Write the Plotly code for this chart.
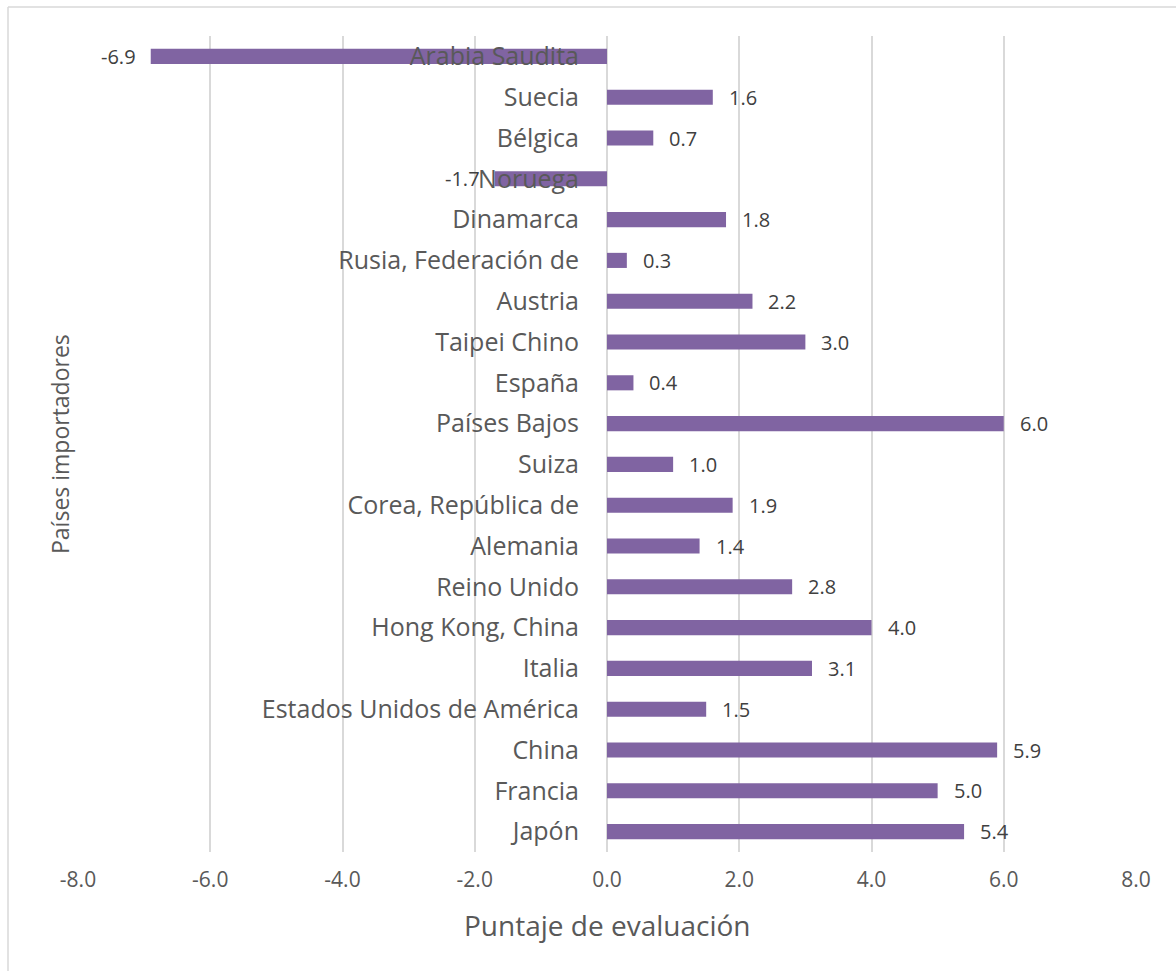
import plotly.graph_objects as go

# Importing countries, listed top to bottom
paises = [
    "Arabia Saudita", "Suecia", "Bélgica", "Noruega", "Dinamarca",
    "Rusia, Federación de", "Austria", "Taipei Chino", "España",
    "Países Bajos", "Suiza", "Corea, República de", "Alemania",
    "Reino Unido", "Hong Kong, China", "Italia",
    "Estados Unidos de América", "China", "Francia", "Japón",
]
puntaje = [
    -6.9, 1.6, 0.7, -1.7, 1.8,
    0.3, 2.2, 3.0, 0.4,
    6.0, 1.0, 1.9, 1.4,
    2.8, 4.0, 3.1,
    1.5, 5.9, 5.0, 5.4,
]
ticks_x = [-8, -6, -4, -2, 0, 2, 4, 6, 8]

FONT = "Open Sans"
GRAY = "#595959"
LABEL = "#404040"
PURPLE = "#8064A2"

W, H = 1176, 971
ML, MR, MT, MB = 78, 40, 36, 119
XMIN, XMAX = -8, 8
plot_w = W - ML - MR
plot_h = H - MT - MB

fig = go.Figure(
    go.Bar(
        x=puntaje,
        y=paises,
        orientation="h",
        marker=dict(color=PURPLE, line=dict(width=0)),
        width=0.37,
        hoverinfo="x+y",
    )
)

# Value labels at the end of each bar
for p, v in zip(paises, puntaje):
    fig.add_annotation(
        x=v, y=p, xref="x", yref="y",
        text=f"{v:.1f}",
        showarrow=False,
        xanchor="left" if v >= 0 else "right",
        xshift=14 if v >= 0 else -13,
        font=dict(family=FONT, size=20, color=LABEL),
    )

# Axis titles
fig.add_annotation(
    x=(60 - ML) / plot_w, y=0.5, xref="paper", yref="paper",
    text="Países importadores", textangle=-90, showarrow=False,
    xanchor="center", yanchor="middle",
    font=dict(family=FONT, size=23, color=GRAY),
)
fig.add_annotation(
    x=0.5, y=(MT + plot_h - 925) / plot_h, xref="paper", yref="paper",
    text="Puntaje de evaluación", showarrow=False,
    xanchor="center", yanchor="middle",
    font=dict(family=FONT, size=28, color=GRAY),
)

# Light chart-area border (left and top edges)
bx = (8 - ML) / plot_w
by_top = (MT + plot_h - 7) / plot_h
by_bot = (MT + plot_h - 975) / plot_h
bx_r = (1180 - ML) / plot_w
fig.add_shape(type="line", xref="paper", yref="paper",
              x0=bx, x1=bx, y0=by_bot, y1=by_top,
              line=dict(color="#D9D9D9", width=1.5))
fig.add_shape(type="line", xref="paper", yref="paper",
              x0=bx, x1=bx_r, y0=by_top, y1=by_top,
              line=dict(color="#D9D9D9", width=1.5))

fig.update_layout(
    width=W, height=H,
    margin=dict(l=ML, r=MR, t=MT, b=MB, autoexpand=False),
    paper_bgcolor="white", plot_bgcolor="white",
    showlegend=False,
    xaxis=dict(
        range=[XMIN, XMAX],
        tickvals=ticks_x,
        ticktext=[f"{t:.1f}" for t in ticks_x],
        showgrid=True, gridcolor="#D9D9D9", gridwidth=1.5,
        zeroline=False, showline=False, ticks="",
        ticklabelstandoff=13,
        tickfont=dict(family=FONT, size=21, color=GRAY),
        fixedrange=True,
    ),
    yaxis=dict(
        categoryorder="array",
        categoryarray=paises[::-1],
        anchor="free",
        position=(0 - XMIN) / (XMAX - XMIN),
        side="left",
        showgrid=False, zeroline=False, showline=False, ticks="",
        ticklabelstandoff=28,
        tickfont=dict(family=FONT, size=25, color=GRAY),
        fixedrange=True,
    ),
)

fig.write_html("out.html")
